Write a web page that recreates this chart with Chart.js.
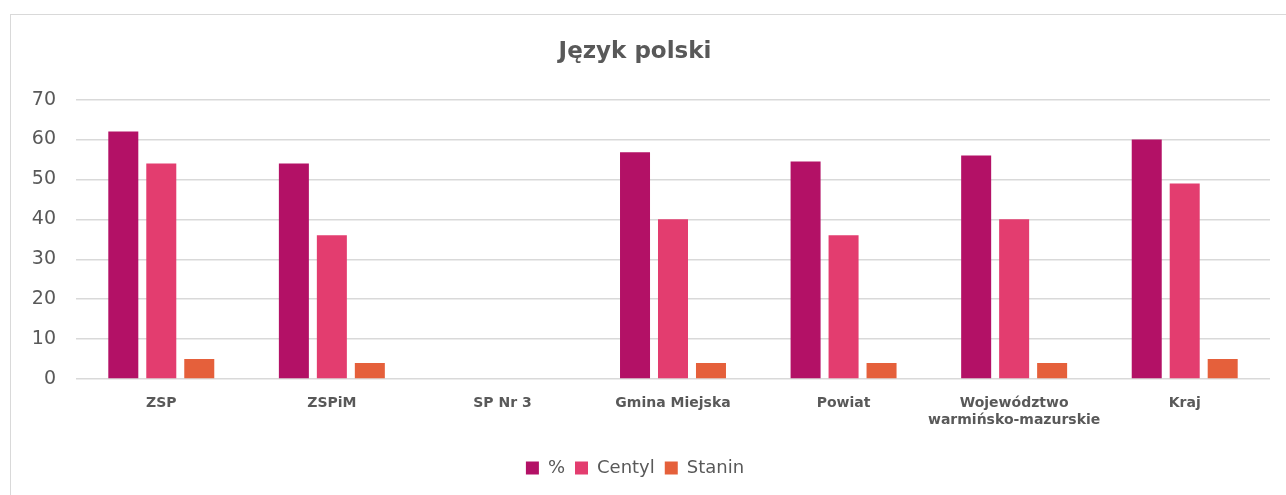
<!DOCTYPE html>
<html>
<head>
<meta charset="utf-8">
<script src="https://cdn.jsdelivr.net/npm/chart.js@4/dist/chart.umd.min.js"></script>
<style>
  html, body { margin: 0; padding: 0; background: #fff; }
  #wrap { position: relative; width: 1286px; height: 495px; overflow: hidden; }
  #frame { position: absolute; left: 10px; top: 14px; width: 1300px; height: 500px; border: 1px solid #d9d9d9; box-sizing: border-box; }
  #c { position: absolute; left: 0; top: 0; }
</style>
</head>
<body>
<div id="wrap">
  <div id="frame"></div>
  <canvas id="c" width="1286" height="495"></canvas>
</div>
<script>
const categories = ['ZSP', 'ZSPiM', 'SP Nr 3', 'Gmina Miejska', 'Powiat', ['Województwo', 'warmińsko-mazurskie'], 'Kraj'];
const percentValues = [62, 54, null, 56.8, 54.5, 56, 60];
const centylValues = [54, 36, null, 40, 36, 40, 49];
const staninValues = [5, 4, null, 4, 4, 4, 5];
const yTicks = [0, 10, 20, 30, 40, 50, 60, 70];

const FONT = "'DejaVu Sans', sans-serif";
const TEXT = '#595959';

new Chart(document.getElementById('c'), {
  type: 'bar',
  data: {
    labels: categories,
    datasets: [
      { label: '%', data: percentValues, backgroundColor: '#B31166' },
      { label: 'Centyl', data: centylValues, backgroundColor: '#E33D6F' },
      { label: 'Stanin', data: staninValues, backgroundColor: '#E5603B' }
    ]
  },
  options: {
    responsive: false,
    animation: false,
    categoryPercentage: 0.668,
    barPercentage: 0.79,
    layout: { padding: { left: 0, right: 16, top: 0, bottom: 8 } },
    plugins: {
      title: {
        display: true,
        text: 'Język polski',
        color: TEXT,
        font: { family: FONT, size: 23, weight: 'bold' },
        padding: { top: 38, bottom: 34 }
      },
      legend: {
        position: 'bottom',
        labels: {
          color: TEXT,
          font: { family: FONT, size: 18 },
          boxWidth: 13,
          boxHeight: 13,
          padding: 10
        }
      },
      tooltip: { enabled: false }
    },
    scales: {
      x: {
        grid: { display: false },
        border: { display: false },
        ticks: {
          color: TEXT,
          font: { family: FONT, size: 14, weight: 'bold' },
          padding: 8,
          maxRotation: 0,
          autoSkip: false
        },
        afterFit(scale) { scale.height = 70; }
      },
      y: {
        min: 0,
        max: 70,
        afterBuildTicks(scale) { scale.ticks = yTicks.map(v => ({ value: v })); },
        grid: { color: '#d9d9d9', lineWidth: 1.5, drawTicks: false },
        border: { display: false },
        ticks: {
          color: TEXT,
          font: { family: FONT, size: 19 },
          padding: 20
        },
        afterFit(scale) { scale.width = 76; }
      }
    }
  }
});
</script>
</body>
</html>
